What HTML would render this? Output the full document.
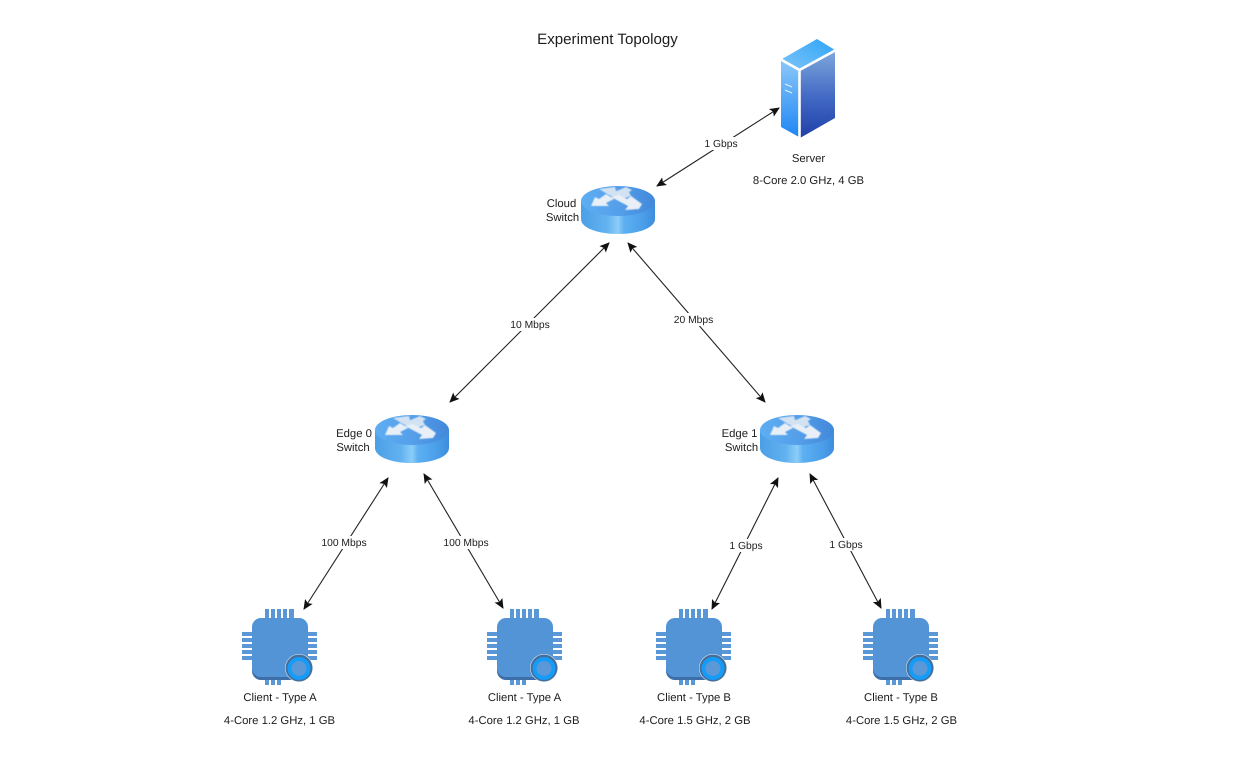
<!DOCTYPE html>
<html><head><meta charset="utf-8"><style>
html,body{margin:0;padding:0;background:#fff;width:1233px;height:760px;overflow:hidden}
svg{display:block}
text{font-family:"Liberation Sans",sans-serif;fill:#1c1c1c;text-rendering:geometricPrecision}
.n{font-size:11.3px;text-anchor:middle}
.l{font-size:10.3px;text-anchor:middle}
.a{stroke:#222;stroke-width:1.1;fill:none;marker-start:url(#h);marker-end:url(#h)}
</style></head><body>
<svg width="1233" height="760" viewBox="0 0 1233 760" xmlns="http://www.w3.org/2000/svg">
<defs>
<filter id="soft" x="-10%" y="-10%" width="120%" height="120%"><feGaussianBlur stdDeviation="0.5"/></filter>
<marker id="h" viewBox="0 0 10 10" refX="9" refY="5" markerWidth="10" markerHeight="10" markerUnits="userSpaceOnUse" orient="auto-start-reverse"><path d="M0 0.5L10 5L0 9.500L2 5Z" fill="#111"/></marker>
<linearGradient id="rs" x1="0" x2="1" y1="0" y2="0"><stop offset="0" stop-color="#4b9fe6"/><stop offset=".35" stop-color="#62b2f0"/><stop offset=".5" stop-color="#8ccdf8"/><stop offset=".58" stop-color="#5cb0f2"/><stop offset=".85" stop-color="#4a9de8"/><stop offset="1" stop-color="#3d8ddc"/></linearGradient>
<linearGradient id="rt" x1="0" x2="1" y1="0" y2="0"><stop offset="0" stop-color="#5eaef2"/><stop offset=".5" stop-color="#559fea"/><stop offset="1" stop-color="#4288da"/></linearGradient>
<linearGradient id="s1" x1="0" x2="0" y1="0" y2="1"><stop offset="0" stop-color="#8cc8f8"/><stop offset="1" stop-color="#1f86f5"/></linearGradient>
<linearGradient id="s2" x1="0" x2="0" y1="0" y2="1"><stop offset="0" stop-color="#7fa9dc"/><stop offset=".55" stop-color="#4168c4"/><stop offset="1" stop-color="#1f3fa8"/></linearGradient>
<linearGradient id="s3" x1="0" x2="1" y1="1" y2="0"><stop offset="0" stop-color="#7cc4f8"/><stop offset="1" stop-color="#2fa4f8"/></linearGradient>
<g id="router">
<path d="M-37 -9V9C-37 18 -20 24 0 24S37 18 37 9V-9Z" fill="url(#rs)"/>
<ellipse cx="0" cy="-9" rx="37" ry="15" fill="url(#rt)"/>
<g filter="url(#soft)">
<path d="M-27 -4L-23 -13L-19 -11L-12 -16L-4 -11L-12 -7L-9 -4Z" fill="#e8eff7"/>
<path d="M-19 -21L-3 -23L-2 -19L3 -17L-1 -10L-5 -13L-9 -15Z" fill="#d2e2f2"/>
<path d="M-6 -17L8 -23L14 -20L11 -18L13 -14L4 -11L-1 -10Z" fill="#d2e2f2"/>
<path d="M-7 -13L1 -15L9 -11L13 -14L24 -6L21 -1L7 0L10 -4Z" fill="#e8eff7"/>
</g>
</g>
<g id="chip">
<g fill="#5a97d6">
<rect x="23" y="0" width="4" height="76"/><rect x="29" y="0" width="4" height="76"/><rect x="35" y="0" width="4" height="76"/><rect x="41" y="0" width="4" height="40"/><rect x="47" y="0" width="5" height="40"/>
<rect x="0" y="23" width="75" height="4"/><rect x="0" y="29" width="75" height="4"/><rect x="0" y="35" width="75" height="4"/><rect x="0" y="41" width="75" height="4"/><rect x="0" y="47" width="75" height="4"/>
</g>
<rect x="10" y="11" width="56" height="60" rx="9" fill="#3d6ea8"/>
<rect x="10" y="9" width="56" height="59" rx="9" fill="#5394d6"/>
<circle cx="57" cy="59" r="14" fill="#e8f1fa"/>
<circle cx="57" cy="59" r="13.500" fill="#456f98"/>
<circle cx="57" cy="59.500" r="11.500" fill="#159bf8"/>
<circle cx="57" cy="59.500" r="7.500" fill="#5a98d8"/>
</g>
</defs>
<text x="607.500" y="44" font-size="15.100" text-anchor="middle">Experiment Topology</text>

<line class="a" x1="779" y1="108" x2="657" y2="186"/>
<line class="a" x1="609" y1="243" x2="450" y2="402"/>
<line class="a" x1="628" y1="243" x2="765" y2="402"/>
<line class="a" x1="388" y1="478" x2="304" y2="609"/>
<line class="a" x1="424" y1="474" x2="503" y2="608"/>
<line class="a" x1="778" y1="478" x2="712" y2="609"/>
<line class="a" x1="810" y1="474" x2="881" y2="608"/>

<g fill="#fff">
<rect x="704" y="137" width="34" height="13"/><rect x="511" y="318" width="39" height="13"/><rect x="674" y="313" width="39" height="13"/>
<rect x="321" y="536" width="46" height="13"/><rect x="443" y="536" width="46" height="13"/><rect x="729" y="539" width="34" height="13"/><rect x="829" y="538" width="34" height="13"/>
</g>
<text class="l" x="721" y="147">1 Gbps</text>
<text class="l" x="530" y="328">10 Mbps</text>
<text class="l" x="693.500" y="323">20 Mbps</text>
<text class="l" x="344" y="546">100 Mbps</text>
<text class="l" x="466" y="546">100 Mbps</text>
<text class="l" x="746" y="549">1 Gbps</text>
<text class="l" x="846" y="548">1 Gbps</text>

<path d="M781 60L799 70V137L781 127Z" fill="url(#s1)"/>
<path d="M800 70L835 50V118L800 138Z" fill="url(#s2)"/>
<path d="M782 59L817 39L835 50L799 69Z" fill="url(#s3)"/>
<path d="M780 59L799.500 70L836 50M799.500 70V138" fill="none" stroke="#fff" stroke-width="2.600"/>
<path d="M785 84L792 87M785 90L792 93" stroke="#e4f1fc" stroke-width="1.200" fill="none"/>

<use href="#router" x="618" y="210"/>
<use href="#router" x="412" y="439"/>
<use href="#router" x="797" y="439"/>

<use href="#chip" x="242" y="609"/>
<use href="#chip" x="487" y="609"/>
<use href="#chip" x="656" y="609"/>
<use href="#chip" x="863" y="609"/>

<text class="n" x="808.500" y="162">Server</text>
<text class="n" x="808.500" y="184">8-Core 2.0 GHz, 4 GB</text>
<text class="n" x="561.500" y="207">Cloud</text>
<text class="n" x="562.500" y="221">Switch</text>
<text class="n" x="354" y="437">Edge 0</text>
<text class="n" x="353" y="451">Switch</text>
<text class="n" x="739.500" y="437">Edge 1</text>
<text class="n" x="741.500" y="451">Switch</text>
<text class="n" x="280" y="701">Client - Type A</text>
<text class="n" x="279.500" y="724">4-Core 1.2 GHz, 1 GB</text>
<text class="n" x="524.500" y="701">Client - Type A</text>
<text class="n" x="524" y="724">4-Core 1.2 GHz, 1 GB</text>
<text class="n" x="694" y="701">Client - Type B</text>
<text class="n" x="695" y="724">4-Core 1.5 GHz, 2 GB</text>
<text class="n" x="901" y="701">Client - Type B</text>
<text class="n" x="901.500" y="724">4-Core 1.5 GHz, 2 GB</text>
</svg>
</body></html>
